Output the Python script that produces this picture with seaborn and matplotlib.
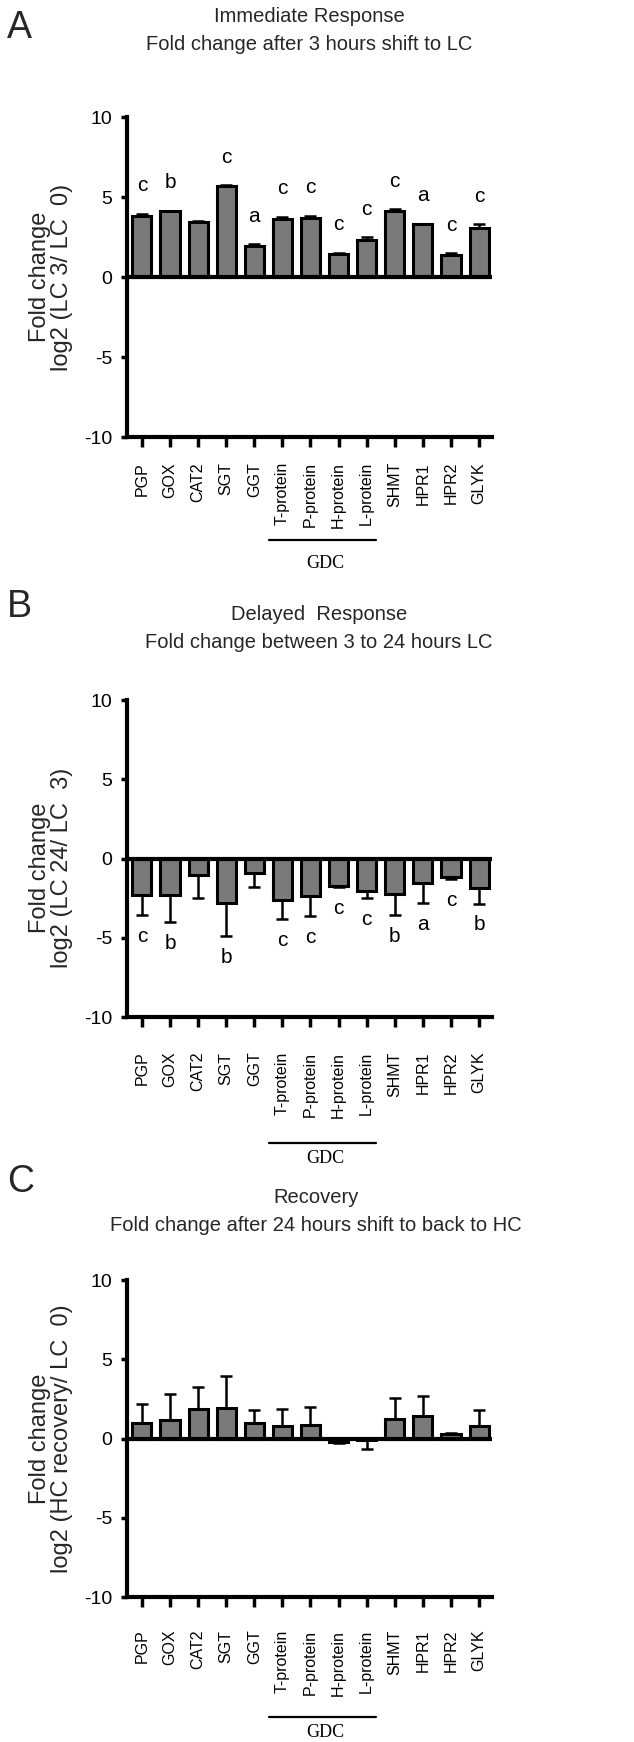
import numpy as np
import pandas as pd
import matplotlib
matplotlib.use("Agg")
import matplotlib.pyplot as plt
import seaborn as sns

genes = ['PGP', 'GOX', 'CAT2', 'SGT', 'GGT', 'T-protein', 'P-protein',
         'H-protein', 'L-protein', 'SHMT', 'HPR1', 'HPR2', 'GLYK']

imm_vals = [3.83, 4.10, 3.44, 5.67, 1.92, 3.65, 3.69, 1.44, 2.29, 4.10, 3.31, 1.37, 3.06]
imm_err = [0.12, 0.05, 0.03, 0.05, 0.12, 0.12, 0.14, 0.08, 0.20, 0.14, 0.03, 0.10, 0.25]
imm_letters = ['c', 'b', '', 'c', 'a', 'c', 'c', 'c', 'c', 'c', 'a', 'c', 'c']

del_vals = [-2.33, -2.33, -1.07, -2.79, -0.94, -2.62, -2.37, -1.74, -2.05, -2.26, -1.53, -1.17, -1.84]
del_err = [1.23, 1.67, 1.43, 2.10, 0.86, 1.22, 1.26, 0.08, 0.46, 1.30, 1.26, 0.11, 1.00]
del_letters = ['c', 'b', '', 'b', '', 'c', 'c', 'c', 'c', 'b', 'a', 'c', 'b']

rec_vals = [1.00, 1.14, 1.85, 1.90, 1.00, 0.76, 0.88, -0.19, -0.10, 1.20, 1.41, 0.27, 0.78]
rec_err = [1.20, 1.68, 1.41, 2.06, 0.77, 1.07, 1.10, 0.08, 0.55, 1.35, 1.30, 0.05, 1.00]

yticks = [-10, -5, 0, 5, 10]
gdc_members = ['T-protein', 'P-protein', 'H-protein', 'L-protein']

titles = [("Immediate Response", "Fold change after 3 hours shift to LC"),
          ("Delayed  Response", "Fold change between 3 to 24 hours LC"),
          ("Recovery", "Fold change after 24 hours shift to back to HC")]
ylabels = ["Fold change\nlog2 (LC 3/ LC  0)",
           "Fold change\nlog2 (LC 24/ LC  3)",
           "Fold change\nlog2 (HC recovery/ LC  0)"]
panel_letters = ['A', 'B', 'C']

sns.set_theme(style='white')
plt.rcParams['font.family'] = ['Liberation Sans', 'DejaVu Sans']

W, H = 634, 1742
fig = plt.figure(figsize=(W / 100, H / 100), dpi=100)

# layout in pixels: (axes top, axes bottom, title y1, title y2, title x, letter y,
#                    xlabel pad pt, bracket px below, gdc text px below, ylabel y frac)
layout = [
    (117, 437, 17, 45, 309, 28, 11.0, 103, 126, 0.5),
    (700, 1017, 615, 643, 319, 607, 18.0, 126, 141, 0.47),
    (1280, 1597, 1197, 1225, 316, 1182, 16.5, 120, 135, 0.5),
]
ax_left, ax_right = 127, 492

datasets = [
    (imm_vals, imm_err, imm_letters),
    (del_vals, del_err, del_letters),
    (rec_vals, rec_err, None),
]

for i, ((vals, errs, letters), lay) in enumerate(zip(datasets, layout)):
    top, bot, ty1, ty2, tx, ly, xpad, brk, gdc_y, ylab_y = lay
    ax = fig.add_axes([ax_left / W, 1 - bot / H, (ax_right - ax_left) / W, (bot - top) / H])
    df = pd.DataFrame({'gene': genes, 'value': vals})
    sns.barplot(data=df, x='gene', y='value', color='#7a7a7a', saturation=1,
                edgecolor='black', linewidth=2.2, width=0.68, errorbar=None, ax=ax, zorder=3)
    x = np.arange(len(genes))
    v = np.array(vals)
    e = np.array(errs)
    lower = np.where(v < 0, e, 0)
    upper = np.where(v >= 0, e, 0)
    ax.errorbar(x, v, yerr=[lower, upper], fmt='none', ecolor='black',
                elinewidth=1.8, capsize=4, capthick=1.8, zorder=2)
    ax.axhline(0, color='black', lw=3, zorder=4)

    if letters is not None:
        for xi, val, err, lt in zip(x, v, e, letters):
            if not lt:
                continue
            if val >= 0:
                ypos = val + err + 1.75
            else:
                ypos = val - err - 1.35
            ax.text(xi, ypos, lt, ha='center', va='center', fontsize=15, color='black')

    ax.set_ylim(-10, 10)
    ax.set_xlim(-0.53, 12.46)
    ax.set_yticks(yticks)
    ax.set_yticklabels([str(t) for t in yticks], fontsize=14)
    ax.set_xticks(x)
    ax.set_xticklabels(genes, rotation=90, fontsize=11.5)
    ax.set_xlabel('')
    ax.set_ylabel(ylabels[i], fontsize=17, linespacing=0.95, va='center', ha='center')
    ax.yaxis.set_label_coords((51 - ax_left) / (ax_right - ax_left), ylab_y)

    for s in ['top', 'right']:
        ax.spines[s].set_visible(False)
    for s in ['left', 'bottom']:
        ax.spines[s].set_linewidth(3)
        ax.spines[s].set_color('black')
    ax.tick_params(axis='y', which='major', direction='out', length=4.5, width=2.5,
                   color='black', pad=6, left=True, labelcolor='black')
    ax.tick_params(axis='x', which='major', direction='out', length=7, width=2.5,
                   color='black', pad=xpad, bottom=True, labelcolor='black')
    ax.grid(False)
    ax.set_facecolor('white')

    # GDC bracket
    axh = bot - top
    tr = ax.get_xaxis_transform()
    gx0 = genes.index(gdc_members[0]) - 0.48
    gx1 = genes.index(gdc_members[-1]) + 0.32
    ax.plot([gx0, gx1], [-brk / axh, -brk / axh], transform=tr, clip_on=False,
            color='black', lw=1.6)
    ax.text((gx0 + gx1) / 2 + 0.12, -gdc_y / axh, 'GDC', transform=tr, ha='center', va='center',
            fontsize=13, family=['Liberation Serif', 'DejaVu Serif'], color='black')

    # titles and panel letters
    fig.text(tx / W, 1 - ty1 / H, titles[i][0], ha='center', va='center', fontsize=14.5)
    fig.text(tx / W, 1 - ty2 / H, titles[i][1], ha='center', va='center', fontsize=14.5)
    fig.text(7 / W, 1 - ly / H, panel_letters[i], ha='left', va='center', fontsize=27)

fig.savefig('out.png', dpi=100, facecolor='white')
